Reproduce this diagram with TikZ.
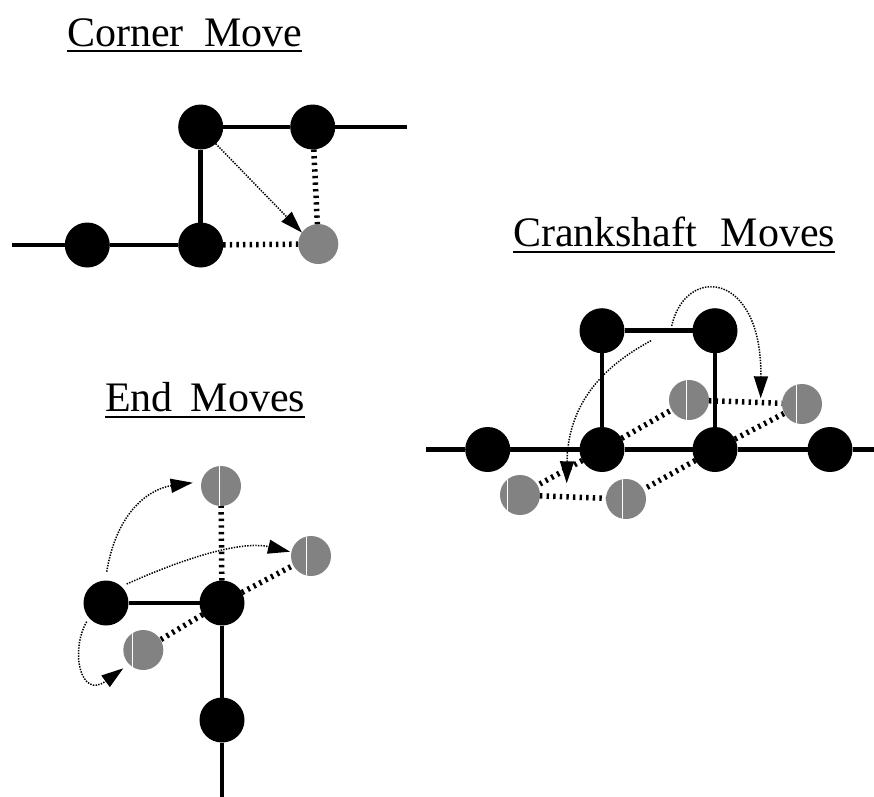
\documentclass[tikz,border=0pt]{standalone}
\usepackage{fontspec}
\setmainfont{Liberation Serif}
\usetikzlibrary{arrows.meta}
\definecolor{ballgray}{RGB}{130,130,130}
\tikzset{
  bball/.style={circle, fill=black, inner sep=0pt, outer sep=0pt, minimum size=45pt},
  gball/.style={circle, fill=ballgray, inner sep=0pt, outer sep=0pt, minimum size=40pt},
  gline/.style={path picture={\draw[white, line width=0.7pt]
     ([xshift=#1]path picture bounding box.north) -- ([xshift=#1]path picture bounding box.south);}},
  bond/.style={line width=4.5pt},
  dbond/.style={line width=5.5pt, dash pattern=on 2.4pt off 4.2pt},
  mv/.style={line width=1.5pt, dash pattern=on 1.4pt off 1.3pt, -{Triangle[length=22pt,width=14pt]}},
  ttl/.style={inner sep=0pt, outer sep=0pt, font=\fontsize{42}{50}\selectfont},
  uline/.style={line width=2pt}
}
\begin{document}
\begin{tikzpicture}[x=1pt,y=-1pt]
\useasboundingbox[fill=white] (0,0) rectangle (874,796);

% ---------- titles ----------
\node[ttl, anchor=base west] (t1) at (67,46.7) {Corner\hspace{0.49em}Move};
\draw[uline] ([yshift=-4pt]t1.base west) -- ([yshift=-4pt]t1.base east);
\node[ttl, anchor=base west] (t2) at (513,246.7) {Crankshaft\hspace{0.56em}Moves};
\draw[uline] ([yshift=-5pt]t2.base west) -- ([yshift=-5pt]t2.base east);
\node[ttl, anchor=base west] (t3) at (105,411.7) {End\hspace{0.43em}Moves};
\draw[uline] ([yshift=-5pt]t3.base west) -- ([yshift=-5pt]t3.base east);

% ---------- corner move ----------
\coordinate (a0) at (11.7,245);
\coordinate (a5) at (406.7,127);
\node[bball] (a1) at (87.3,245) {};
\node[bball] (a2) at (200.7,245) {};
\node[bball] (a3) at (200.7,127) {};
\node[bball] (a4) at (312.7,127) {};
\node[gball] (ag) at (318.3,244) {};
\draw[dbond] (a2) -- (ag);
\draw[dbond] (a4) -- (ag);
\draw[bond] (a0) -- (a1) -- (a2) -- (a3) -- (a4) -- (a5);
\draw[mv] (a3.-48) -- (ag.145);

% ---------- crankshaft ----------
\coordinate (c0) at (426,449.5);
\coordinate (c5) at (876,449.5);
\node[bball] (c1) at (487.7,449.5) {};
\node[bball] (c2) at (602,449.5) {};
\node[bball] (c3) at (715,449.5) {};
\node[bball] (c4) at (830,449.5) {};
\node[bball] (k2) at (602,330.7) {};
\node[bball] (k3) at (715,330.7) {};
\node[gball, gline=-2.7pt] (u1) at (689,400) {};
\node[gball, gline=-5.7pt] (u2) at (802,404) {};
\node[gball, gline=-12.7pt] (l1) at (520,495) {};
\node[gball, gline=-3.7pt] (l2) at (626,499) {};
\draw[dbond] (c2) -- (u1);
\draw[dbond] (c3) -- (u2);
\draw[dbond] (u1) -- (u2);
\draw[dbond] (c2) -- (l1);
\draw[dbond] (c3) -- (l2);
\draw[dbond] (l1) -- (l2);
\draw[bond] (c0) -- (c1) -- (c2) -- (c3) -- (c4) -- (c5);
\draw[bond] (c2) -- (k2) -- (k3) -- (c3);
\coordinate (ka) at (671.7,326);
\coordinate (kb) at (760.7,398.3);
\coordinate (kc) at (651,340.7);
\coordinate (kd) at (566.7,483.3);
\draw[mv] (ka) .. controls (685,265) and (762,270) .. (kb);
\draw[mv] (kc) .. controls (615,360) and (568,395) .. (kd);

% ---------- end moves ----------
\coordinate (e4) at (222,797);
\node[bball] (e1) at (106,603) {};
\node[bball] (e2) at (222,603) {};
\node[bball] (e3) at (222,720) {};
\node[gball, gline=-1.7pt] (gt) at (221,486) {};
\node[gball, gline=-5pt] (gr) at (311,556) {};
\node[gball, gline=-10.7pt] (gl) at (143.3,650) {};
\draw[dbond] (e2) -- (gt);
\draw[dbond] (e2) -- (gr);
\draw[dbond] (e2) -- (gl);
\draw[bond] (e1) -- (e2) -- (e3) -- (e4);
\coordinate (m1s) at (106.7,571.7);
\coordinate (m1e) at (192.7,482.7);
\coordinate (m2s) at (126.7,584);
\coordinate (m2e) at (290,551.7);
\coordinate (m3s) at (86.7,621.7);
\coordinate (m3e) at (123.3,668.3);
\draw[mv] (m1s) .. controls (118,505) and (155,488) .. (m1e);
\draw[mv] (m2s) .. controls (180,560) and (240,540) .. (m2e);
\draw[mv] (m3s) .. controls (70,650) and (80,700) .. (m3e);
\end{tikzpicture}
\end{document}
